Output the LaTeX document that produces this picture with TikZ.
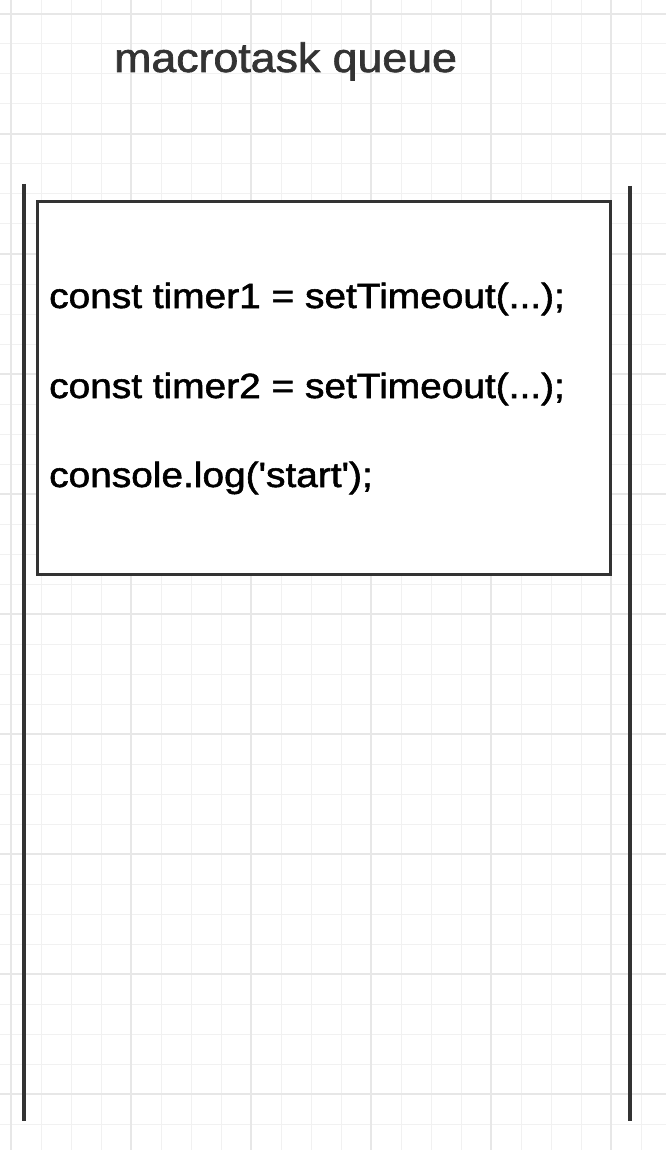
\documentclass[tikz,border=0pt]{standalone}
\usepackage{fontspec}
\setmainfont{Liberation Sans}
\newfontfamily\heavysans[FakeBold=1.5]{Liberation Sans}
\definecolor{linec}{HTML}{333333}
\definecolor{gridminor}{HTML}{F1F1F1}
\definecolor{gridmajor}{HTML}{E7E7E7}
\definecolor{titlec}{HTML}{333333}
\tikzset{
  minorgrid/.style={draw=gridminor, line width=1pt},
  majorgrid/.style={draw=gridmajor, line width=1.6pt},
  wall/.style={draw=linec, line width=3.3pt},
  boxstyle/.style={draw=linec, line width=3.3pt, fill=white, inner sep=0pt, anchor=north west},
  codetext/.style={inner sep=0pt, anchor=base west, text=black, font=\heavysans\fontsize{35}{40}\selectfont},
  titletext/.style={inner sep=0pt, anchor=base west, text=titlec, font=\heavysans\fontsize{41}{46}\selectfont}
}
\begin{document}
\begin{tikzpicture}[x=1pt,y=-1pt]
\useasboundingbox (0,0) rectangle (666,1150);
\fill[white] (0,0) rectangle (666,1150);
% grid
\foreach \i in {0,...,21} \draw[minorgrid] (11+30*\i,0) -- (11+30*\i,1150);
\foreach \j in {0,...,37} \draw[minorgrid] (0,14+30*\j) -- (666,14+30*\j);
\foreach \i in {0,...,5} \draw[majorgrid] (11+120*\i,0) -- (11+120*\i,1150);
\foreach \j in {0,...,9} \draw[majorgrid] (0,14+120*\j) -- (666,14+120*\j);
% title
\node[titletext] (title) at (114,72) {\scalebox{1.09}[1]{macrotask queue}};
% queue walls
\coordinate (ltop) at (24,184);
\coordinate (lbot) at (24,1121);
\coordinate (rtop) at (630,186);
\coordinate (rbot) at (630,1121);
\draw[wall] (ltop) -- (lbot);
\draw[wall] (rtop) -- (rbot);
% task box
\node[boxstyle, minimum width=573pt, minimum height=373pt] (box) at (35.5,200) {};
\node[codetext] (l1) at (49,308) {\scalebox{1.11}[1]{const timer1 = setTimeout(...);}};
\node[codetext] (l2) at (49,398) {\scalebox{1.11}[1]{const timer2 = setTimeout(...);}};
\node[codetext] (l3) at (49,487) {\scalebox{1.11}[1]{console.log(\textquotesingle start\textquotesingle);}};
\end{tikzpicture}
\end{document}
